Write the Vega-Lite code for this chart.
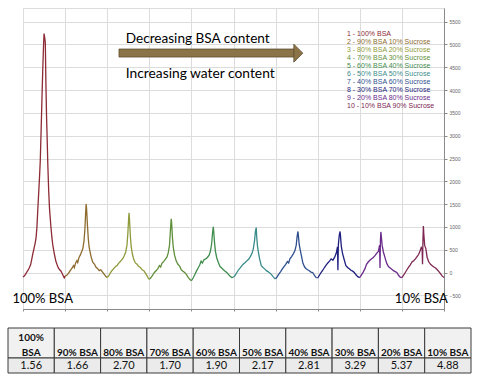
{
  "$schema": "https://vega.github.io/schema/vega-lite/v6.json",
  "padding": {"left": 7, "top": 7, "right": 0, "bottom": 0},
  "background": "white",
  "spacing": 5,
  "config": {"font": "Liberation Sans"},
  "datasets": {
    "spectrum": [
      {"x":0.50,"y":-100,"s":1},{"x":0.53,"y":-75,"s":1},{"x":0.56,"y":-40,"s":1},{"x":0.59,"y":10,"s":1},{"x":0.62,"y":50,"s":1},{"x":0.65,"y":105,"s":1},{"x":0.68,"y":170,"s":1},{"x":0.71,"y":300,"s":1},{"x":0.73,"y":400,"s":1},{"x":0.76,"y":520,"s":1},{"x":0.79,"y":650,"s":1},{"x":0.81,"y":760,"s":1},{"x":0.83,"y":980,"s":1},{"x":0.85,"y":1350,"s":1},{"x":0.87,"y":1700,"s":1},{"x":0.89,"y":2050,"s":1},{"x":0.91,"y":2445,"s":1},{"x":0.93,"y":3100,"s":1},{"x":0.95,"y":3800,"s":1},{"x":0.968,"y":4400,"s":1},{"x":0.985,"y":4900,"s":1},{"x":1.00,"y":5240,"s":1},{"x":1.015,"y":5150,"s":1},{"x":1.03,"y":5040,"s":1},{"x":1.045,"y":4100,"s":1},{"x":1.06,"y":3400,"s":1},{"x":1.075,"y":2900,"s":1},{"x":1.09,"y":2350,"s":1},{"x":1.11,"y":1800,"s":1},{"x":1.13,"y":1400,"s":1},{"x":1.15,"y":1150,"s":1},{"x":1.165,"y":980,"s":1},{"x":1.185,"y":780,"s":1},{"x":1.205,"y":620,"s":1},{"x":1.23,"y":480,"s":1},{"x":1.255,"y":360,"s":1},{"x":1.28,"y":250,"s":1},{"x":1.31,"y":170,"s":1},{"x":1.34,"y":100,"s":1},{"x":1.37,"y":60,"s":1},{"x":1.40,"y":35,"s":1},{"x":1.43,"y":-20,"s":1},{"x":1.46,"y":-80,"s":1},{"x":1.48,"y":-115,"s":1},{"x":1.50,"y":-80,"s":1},
      {"x":1.50,"y":-80,"s":2},{"x":1.54,"y":-60,"s":2},{"x":1.58,"y":-20,"s":2},{"x":1.62,"y":40,"s":2},{"x":1.66,"y":90,"s":2},{"x":1.70,"y":150,"s":2},{"x":1.72,"y":110,"s":2},{"x":1.75,"y":210,"s":2},{"x":1.78,"y":260,"s":2},{"x":1.80,"y":220,"s":2},{"x":1.83,"y":330,"s":2},{"x":1.86,"y":380,"s":2},{"x":1.89,"y":450,"s":2},{"x":1.92,"y":520,"s":2},{"x":1.95,"y":700,"s":2},{"x":1.97,"y":950,"s":2},{"x":1.99,"y":1350,"s":2},{"x":2.00,"y":1500,"s":2},{"x":2.01,"y":1400,"s":2},{"x":2.03,"y":1050,"s":2},{"x":2.05,"y":750,"s":2},{"x":2.07,"y":560,"s":2},{"x":2.10,"y":420,"s":2},{"x":2.13,"y":300,"s":2},{"x":2.16,"y":220,"s":2},{"x":2.20,"y":180,"s":2},{"x":2.23,"y":120,"s":2},{"x":2.27,"y":90,"s":2},{"x":2.31,"y":40,"s":2},{"x":2.35,"y":60,"s":2},{"x":2.39,"y":10,"s":2},{"x":2.43,"y":-40,"s":2},{"x":2.47,"y":-90,"s":2},{"x":2.50,"y":-110,"s":2},
      {"x":2.50,"y":-110,"s":3},{"x":2.54,"y":-70,"s":3},{"x":2.58,"y":0,"s":3},{"x":2.62,"y":50,"s":3},{"x":2.66,"y":90,"s":3},{"x":2.70,"y":130,"s":3},{"x":2.74,"y":160,"s":3},{"x":2.77,"y":200,"s":3},{"x":2.80,"y":230,"s":3},{"x":2.84,"y":270,"s":3},{"x":2.88,"y":320,"s":3},{"x":2.91,"y":380,"s":3},{"x":2.94,"y":450,"s":3},{"x":2.97,"y":600,"s":3},{"x":2.99,"y":850,"s":3},{"x":3.01,"y":1200,"s":3},{"x":3.02,"y":1310,"s":3},{"x":3.03,"y":1150,"s":3},{"x":3.05,"y":800,"s":3},{"x":3.07,"y":560,"s":3},{"x":3.10,"y":400,"s":3},{"x":3.13,"y":290,"s":3},{"x":3.17,"y":210,"s":3},{"x":3.21,"y":180,"s":3},{"x":3.25,"y":130,"s":3},{"x":3.29,"y":110,"s":3},{"x":3.33,"y":60,"s":3},{"x":3.37,"y":40,"s":3},{"x":3.41,"y":-20,"s":3},{"x":3.45,"y":-80,"s":3},{"x":3.48,"y":-130,"s":3},{"x":3.50,"y":-150,"s":3},
      {"x":3.50,"y":-150,"s":4},{"x":3.54,"y":-110,"s":4},{"x":3.58,"y":-60,"s":4},{"x":3.62,"y":0,"s":4},{"x":3.66,"y":40,"s":4},{"x":3.70,"y":80,"s":4},{"x":3.74,"y":150,"s":4},{"x":3.77,"y":120,"s":4},{"x":3.80,"y":200,"s":4},{"x":3.84,"y":240,"s":4},{"x":3.88,"y":290,"s":4},{"x":3.92,"y":340,"s":4},{"x":3.95,"y":430,"s":4},{"x":3.98,"y":600,"s":4},{"x":4.00,"y":900,"s":4},{"x":4.02,"y":1180,"s":4},{"x":4.03,"y":1100,"s":4},{"x":4.05,"y":760,"s":4},{"x":4.07,"y":550,"s":4},{"x":4.10,"y":380,"s":4},{"x":4.14,"y":250,"s":4},{"x":4.18,"y":180,"s":4},{"x":4.22,"y":140,"s":4},{"x":4.26,"y":60,"s":4},{"x":4.30,"y":30,"s":4},{"x":4.34,"y":0,"s":4},{"x":4.38,"y":-40,"s":4},{"x":4.42,"y":-100,"s":4},{"x":4.46,"y":-150,"s":4},{"x":4.50,"y":-180,"s":4},
      {"x":4.50,"y":-180,"s":5},{"x":4.54,"y":-120,"s":5},{"x":4.58,"y":-50,"s":5},{"x":4.62,"y":30,"s":5},{"x":4.66,"y":100,"s":5},{"x":4.70,"y":170,"s":5},{"x":4.73,"y":250,"s":5},{"x":4.76,"y":210,"s":5},{"x":4.80,"y":280,"s":5},{"x":4.84,"y":300,"s":5},{"x":4.88,"y":330,"s":5},{"x":4.92,"y":380,"s":5},{"x":4.95,"y":460,"s":5},{"x":4.98,"y":620,"s":5},{"x":5.00,"y":850,"s":5},{"x":5.02,"y":1000,"s":5},{"x":5.03,"y":900,"s":5},{"x":5.05,"y":650,"s":5},{"x":5.07,"y":470,"s":5},{"x":5.10,"y":330,"s":5},{"x":5.14,"y":220,"s":5},{"x":5.18,"y":130,"s":5},{"x":5.22,"y":100,"s":5},{"x":5.26,"y":60,"s":5},{"x":5.30,"y":30,"s":5},{"x":5.34,"y":0,"s":5},{"x":5.38,"y":-40,"s":5},{"x":5.42,"y":-80,"s":5},{"x":5.46,"y":-110,"s":5},{"x":5.50,"y":-100,"s":5},
      {"x":5.50,"y":-100,"s":6},{"x":5.54,"y":-60,"s":6},{"x":5.58,"y":0,"s":6},{"x":5.62,"y":60,"s":6},{"x":5.66,"y":100,"s":6},{"x":5.70,"y":150,"s":6},{"x":5.74,"y":190,"s":6},{"x":5.78,"y":220,"s":6},{"x":5.82,"y":260,"s":6},{"x":5.86,"y":290,"s":6},{"x":5.90,"y":350,"s":6},{"x":5.94,"y":420,"s":6},{"x":5.97,"y":520,"s":6},{"x":6.00,"y":700,"s":6},{"x":6.02,"y":900,"s":6},{"x":6.04,"y":985,"s":6},{"x":6.05,"y":800,"s":6},{"x":6.07,"y":580,"s":6},{"x":6.09,"y":450,"s":6},{"x":6.12,"y":300,"s":6},{"x":6.16,"y":150,"s":6},{"x":6.20,"y":110,"s":6},{"x":6.24,"y":80,"s":6},{"x":6.28,"y":40,"s":6},{"x":6.32,"y":20,"s":6},{"x":6.36,"y":-10,"s":6},{"x":6.40,"y":-40,"s":6},{"x":6.44,"y":-90,"s":6},{"x":6.48,"y":-130,"s":6},{"x":6.50,"y":-140,"s":6},
      {"x":6.50,"y":-140,"s":7},{"x":6.54,"y":-90,"s":7},{"x":6.58,"y":-30,"s":7},{"x":6.62,"y":20,"s":7},{"x":6.66,"y":80,"s":7},{"x":6.70,"y":130,"s":7},{"x":6.74,"y":180,"s":7},{"x":6.78,"y":240,"s":7},{"x":6.81,"y":210,"s":7},{"x":6.84,"y":300,"s":7},{"x":6.88,"y":350,"s":7},{"x":6.92,"y":410,"s":7},{"x":6.96,"y":480,"s":7},{"x":6.99,"y":600,"s":7},{"x":7.01,"y":780,"s":7},{"x":7.03,"y":900,"s":7},{"x":7.04,"y":820,"s":7},{"x":7.06,"y":620,"s":7},{"x":7.08,"y":520,"s":7},{"x":7.11,"y":380,"s":7},{"x":7.15,"y":200,"s":7},{"x":7.19,"y":120,"s":7},{"x":7.22,"y":90,"s":7},{"x":7.26,"y":60,"s":7},{"x":7.30,"y":40,"s":7},{"x":7.34,"y":10,"s":7},{"x":7.38,"y":0,"s":7},{"x":7.42,"y":-60,"s":7},{"x":7.46,"y":-110,"s":7},{"x":7.50,"y":-120,"s":7},
      {"x":7.50,"y":-120,"s":8},{"x":7.54,"y":-60,"s":8},{"x":7.58,"y":0,"s":8},{"x":7.62,"y":50,"s":8},{"x":7.66,"y":110,"s":8},{"x":7.70,"y":160,"s":8},{"x":7.74,"y":210,"s":8},{"x":7.78,"y":250,"s":8},{"x":7.82,"y":300,"s":8},{"x":7.86,"y":270,"s":8},{"x":7.90,"y":330,"s":8},{"x":7.94,"y":420,"s":8},{"x":7.97,"y":560,"s":8},{"x":7.98,"y":50,"s":8},{"x":7.99,"y":600,"s":8},{"x":8.01,"y":800,"s":8},{"x":8.03,"y":900,"s":8},{"x":8.04,"y":820,"s":8},{"x":8.06,"y":580,"s":8},{"x":8.09,"y":420,"s":8},{"x":8.13,"y":280,"s":8},{"x":8.17,"y":150,"s":8},{"x":8.21,"y":110,"s":8},{"x":8.25,"y":80,"s":8},{"x":8.29,"y":50,"s":8},{"x":8.33,"y":30,"s":8},{"x":8.37,"y":0,"s":8},{"x":8.41,"y":-50,"s":8},{"x":8.45,"y":-90,"s":8},{"x":8.50,"y":-110,"s":8},
      {"x":8.50,"y":-110,"s":9},{"x":8.54,"y":-50,"s":9},{"x":8.58,"y":10,"s":9},{"x":8.62,"y":80,"s":9},{"x":8.66,"y":180,"s":9},{"x":8.70,"y":230,"s":9},{"x":8.74,"y":270,"s":9},{"x":8.78,"y":300,"s":9},{"x":8.82,"y":330,"s":9},{"x":8.86,"y":370,"s":9},{"x":8.90,"y":420,"s":9},{"x":8.94,"y":460,"s":9},{"x":8.97,"y":600,"s":9},{"x":8.98,"y":100,"s":9},{"x":8.99,"y":700,"s":9},{"x":9.00,"y":890,"s":9},{"x":9.01,"y":800,"s":9},{"x":9.03,"y":600,"s":9},{"x":9.06,"y":450,"s":9},{"x":9.10,"y":320,"s":9},{"x":9.14,"y":200,"s":9},{"x":9.18,"y":130,"s":9},{"x":9.22,"y":100,"s":9},{"x":9.26,"y":70,"s":9},{"x":9.30,"y":40,"s":9},{"x":9.34,"y":20,"s":9},{"x":9.38,"y":0,"s":9},{"x":9.42,"y":-60,"s":9},{"x":9.46,"y":-100,"s":9},{"x":9.50,"y":-110,"s":9},
      {"x":9.50,"y":-110,"s":10},{"x":9.54,"y":-60,"s":10},{"x":9.58,"y":0,"s":10},{"x":9.62,"y":60,"s":10},{"x":9.66,"y":120,"s":10},{"x":9.70,"y":170,"s":10},{"x":9.74,"y":230,"s":10},{"x":9.78,"y":260,"s":10},{"x":9.82,"y":300,"s":10},{"x":9.86,"y":350,"s":10},{"x":9.90,"y":400,"s":10},{"x":9.93,"y":470,"s":10},{"x":9.96,"y":550,"s":10},{"x":9.98,"y":520,"s":10},{"x":9.99,"y":180,"s":10},{"x":10.00,"y":700,"s":10},{"x":10.01,"y":1020,"s":10},{"x":10.02,"y":850,"s":10},{"x":10.04,"y":600,"s":10},{"x":10.07,"y":520,"s":10},{"x":10.10,"y":330,"s":10},{"x":10.14,"y":230,"s":10},{"x":10.18,"y":180,"s":10},{"x":10.22,"y":150,"s":10},{"x":10.26,"y":120,"s":10},{"x":10.30,"y":100,"s":10},{"x":10.34,"y":60,"s":10},{"x":10.38,"y":20,"s":10},{"x":10.42,"y":-30,"s":10},{"x":10.46,"y":-80,"s":10},{"x":10.50,"y":-110,"s":10}
    ],
    "table": [
      {"c":1,"h1":"100%","h2":"BSA","v":"1.56"},
      {"c":2,"h1":"","h2":"90% BSA","v":"1.66"},
      {"c":3,"h1":"","h2":"80% BSA","v":"2.70"},
      {"c":4,"h1":"","h2":"70% BSA","v":"1.70"},
      {"c":5,"h1":"","h2":"60% BSA","v":"1.90"},
      {"c":6,"h1":"","h2":"50% BSA","v":"2.17"},
      {"c":7,"h1":"","h2":"40% BSA","v":"2.81"},
      {"c":8,"h1":"","h2":"30% BSA","v":"3.29"},
      {"c":9,"h1":"","h2":"20% BSA","v":"5.37"},
      {"c":10,"h1":"","h2":"10% BSA","v":"4.88"}
    ]
  },
  "vconcat": [
    {
      "width": 421,
      "height": 301,
      "view": {"stroke": "#dcdcdc"},
      "resolve": {"axis": {"y": "independent"}},
      "layer": [
        {
          "data": {"name": "spectrum"},
          "mark": {"type": "line", "strokeWidth": 1.3},
          "encoding": {
            "x": {"field": "x", "type": "quantitative",
              "scale": {"domain": [0.5, 10.5], "nice": false, "zero": false},
              "axis": {"title": null, "values": [0.5,1,1.5,2,2.5,3,3.5,4,4.5,5,5.5,6,6.5,7,7.5,8,8.5,9,9.5,10,10.5],
                "labelExpr": "datum.value % 1 === 0 ? datum.label : ''",
                "grid": true, "gridColor": "#dcdcdc", "domainColor": "#8a8a8a", "tickColor": "#8a8a8a", "tickSize": 2,
                "labelFontSize": 5, "labelColor": "#666", "labelPadding": 2, "labelFlush": false, "minExtent": 12, "maxExtent": 12}},
            "y": {"field": "y", "type": "quantitative",
              "scale": {"domain": [-800, 5800], "nice": false, "zero": false},
              "axis": {"orient": "right", "title": null, "format": "d", "values": [-500,0,500,1000,1500,2000,2500,3000,3500,4000,4500,5000,5500],
                "grid": true, "gridColor": "#dcdcdc", "domainColor": "#8a8a8a", "tickColor": "#8a8a8a", "tickSize": 3,
                "labelFontSize": 5, "labelColor": "#666", "labelPadding": 2}},
            "color": {"field": "s", "type": "nominal",
              "scale": {"domain": [1,2,3,4,5,6,7,8,9,10],
                "range": ["#8c2b35", "#8d6b2e", "#8f9a3a", "#5f8f3a", "#3f8c4c", "#3b8b8b", "#2f4f8f", "#1f1f80", "#6a2a8a", "#7d2652"]},
              "legend": {"orient": "none", "legendX": 316, "legendY": 22, "title": null, "padding": 0,
                "symbolOpacity": 0, "symbolSize": 1, "symbolStrokeWidth": 0, "labelOffset": 1, "rowPadding": 0,
                "labelFontSize": 7, "labelFont": "Liberation Sans", "labelLimit": 200,
                "labelExpr": "['', '1 - 100% BSA', '2 - 90% BSA 10% Sucrose', '3 - 80% BSA 20% Sucrose', '4 - 70% BSA 30% Sucrose', '5 - 60% BSA 40% Sucrose', '6 - 50% BSA 50% Sucrose', '7 - 40% BSA 60% Sucrose', '8 - 30% BSA 70% Sucrose', '9 - 20% BSA 80% Sucrose', '10 - 10% BSA 90% Sucrose'][datum.value]",
                "encode": {"labels": {"update": {"fill": {"scale": "color", "field": "value"}}}}}
            }
          }
        },
        {
          "data": {"values": [{}]},
          "mark": {"type": "rect", "fill": "#8b7447", "stroke": "#5f4e2e", "strokeWidth": 0.8},
          "encoding": {
            "x": {"datum": 2.78, "type": "quantitative"},
            "x2": {"datum": 6.94},
            "y": {"datum": 4900, "type": "quantitative",
              "axis": {"orient": "left", "title": null, "labels": false, "ticks": false, "domain": false, "grid": false, "minExtent": 15, "maxExtent": 15}},
            "y2": {"datum": 4725}
          }
        },
        {
          "data": {"values": [{}]},
          "mark": {"type": "point", "shape": "M -0.5 -1 L 0.5 0 L -0.5 1 Z", "size": 324, "filled": true, "fill": "#8b7447", "stroke": "#5f4e2e", "strokeWidth": 0.8, "opacity": 1},
          "encoding": {
            "x": {"datum": 7.04, "type": "quantitative"},
            "y": {"datum": 4810, "type": "quantitative", "axis": null}
          }
        },
        {
          "data": {"values": [{}]},
          "mark": {"type": "text", "font": "Lato", "fontSize": 13.6, "align": "left", "baseline": "alphabetic", "color": "#000"},
          "encoding": {
            "x": {"datum": 2.94, "type": "quantitative"},
            "y": {"datum": 5025, "type": "quantitative", "axis": null},
            "text": {"value": "Decreasing BSA content"}
          }
        },
        {
          "data": {"values": [{}]},
          "mark": {"type": "text", "font": "Lato", "fontSize": 13.8, "align": "left", "baseline": "alphabetic", "color": "#000"},
          "encoding": {
            "x": {"datum": 2.94, "type": "quantitative"},
            "y": {"datum": 4275, "type": "quantitative", "axis": null},
            "text": {"value": "Increasing water content"}
          }
        },
        {
          "data": {"values": [{}]},
          "mark": {"type": "text", "font": "Lato", "fontSize": 13, "align": "left", "baseline": "alphabetic", "color": "#000"},
          "encoding": {
            "x": {"datum": 0.25, "type": "quantitative"},
            "y": {"datum": -660, "type": "quantitative", "axis": null},
            "text": {"value": "100% BSA"}
          }
        },
        {
          "data": {"values": [{}]},
          "mark": {"type": "text", "font": "Lato", "fontSize": 13, "align": "right", "baseline": "alphabetic", "color": "#000"},
          "encoding": {
            "x": {"datum": 10.59, "type": "quantitative"},
            "y": {"datum": -660, "type": "quantitative", "axis": null},
            "text": {"value": "10% BSA"}
          }
        }
      ]
    },
    {
      "width": 448,
      "height": 45,
      "data": {"name": "table"},
      "view": {"stroke": null},
      "encoding": {
        "x": {"field": "c", "type": "ordinal", "scale": {"range": [-15, 448], "paddingInner": 0, "paddingOuter": 0}, "axis": null}
      },
      "layer": [
        {
          "mark": {"type": "rect", "fill": "#f1f1f1", "stroke": "#3a3a3a", "strokeWidth": 1},
          "encoding": {
            "y": {"datum": 0, "type": "quantitative", "scale": {"domain": [0, 3], "reverse": true, "nice": false}, "axis": null},
            "y2": {"datum": 2}
          }
        },
        {
          "mark": {"type": "rect", "fill": "#ebebeb", "stroke": "#3a3a3a", "strokeWidth": 1},
          "encoding": {
            "y": {"datum": 2, "type": "quantitative"},
            "y2": {"datum": 3}
          }
        },
        {
          "mark": {"type": "text", "font": "Lato", "fontWeight": "bold", "fontSize": 10, "baseline": "alphabetic", "color": "#111"},
          "encoding": {
            "y": {"datum": 0.85, "type": "quantitative"},
            "text": {"field": "h1"}
          }
        },
        {
          "mark": {"type": "text", "font": "Lato", "fontWeight": "bold", "fontSize": 10, "baseline": "alphabetic", "color": "#111"},
          "encoding": {
            "y": {"datum": 1.85, "type": "quantitative"},
            "text": {"field": "h2"}
          }
        },
        {
          "mark": {"type": "text", "font": "Lato", "fontSize": 11, "baseline": "middle", "color": "#111"},
          "encoding": {
            "y": {"datum": 2.5, "type": "quantitative"},
            "text": {"field": "v"}
          }
        }
      ]
    }
  ]
}
